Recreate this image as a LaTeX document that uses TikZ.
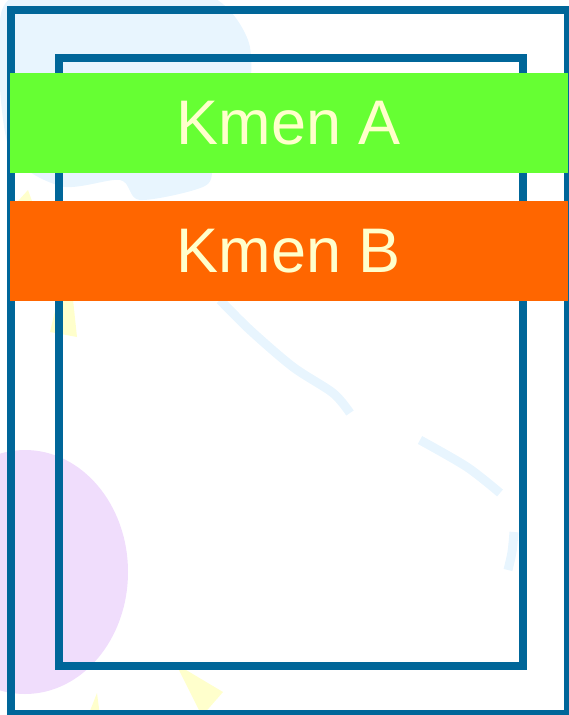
\documentclass[tikz,border=0pt]{standalone}
\usepackage{fontspec}
\setmainfont{Liberation Sans}
\usepackage{xcolor}
\definecolor{cFrame}{HTML}{006699}
\definecolor{cGreen}{HTML}{66FF33}
\definecolor{cOrange}{HTML}{FF6600}
\definecolor{cCream}{HTML}{FFFFCC}
\definecolor{cSky}{HTML}{E8F5FE}
\definecolor{cLilac}{HTML}{F0DDFC}
\definecolor{cLemon}{HTML}{FFFFCC}
\usepackage{tikz}
\usetikzlibrary{positioning}
\tikzset{
  frame-line/.style={draw=cFrame,line width=8pt},
  bar-box/.style={rectangle,minimum width=558pt,minimum height=100pt,
    inner sep=0pt,outer sep=0pt,text=cCream,
    font=\fontsize{63}{63}\selectfont},
  bar-green/.style={fill=cGreen},
  bar-orange/.style={fill=cOrange},
  % faint clip-art behind the frames
  deco-sky/.style={fill=cSky,draw=none},
  deco-stroke/.style={draw=cSky,line width=9pt},
  deco-lemon/.style={fill=cLemon,draw=none},
  deco-lilac/.style={fill=cLilac,draw=none},
}

\begin{document}
\begin{tikzpicture}[x=1pt,y=-1pt]
  \useasboundingbox (0,0) rectangle (568,715);
  % background
  \fill[deco-sky] plot[smooth cycle] coordinates {(2,10) (60,-8) (200,-8)
    (248,40) (246,110) (215,160) (205,186) (140,200) (120,180) (60,186) (8,145)};
  \draw[deco-stroke] plot[smooth] coordinates {(220,300) (250,330) (293,367)
    (333,393) (350,413)};
  \draw[deco-stroke] plot[smooth] coordinates {(420,440) (467,467) (500,493)};
  \draw[deco-stroke] plot[smooth] coordinates {(514,532) (512,552) (508,570)};
  \fill[deco-lemon] (60,290) -- (50,332) -- (77,337) -- (72,290) -- cycle;
  \fill[deco-lemon] (18,201) -- (28,190) -- (32,201) -- cycle;
  \fill[deco-lemon] (176,664) -- (223,692) -- (202,716) -- cycle;
  \fill[deco-lemon] (97,693) -- (88,716) -- (100,716) -- cycle;
  \fill[deco-lilac] (25,572) ellipse [x radius=103pt,y radius=122pt];
  % frames
  \draw[frame-line] (11,10) rectangle (568,714);
  \draw[frame-line] (59,58) rectangle (523,666);
  % bars
  \node[bar-box,bar-green] (kmenA) at (289,123) {Kmen A};
  \node[bar-box,bar-orange,below=28pt of kmenA] (kmenB) {Kmen B};
\end{tikzpicture}
\end{document}
